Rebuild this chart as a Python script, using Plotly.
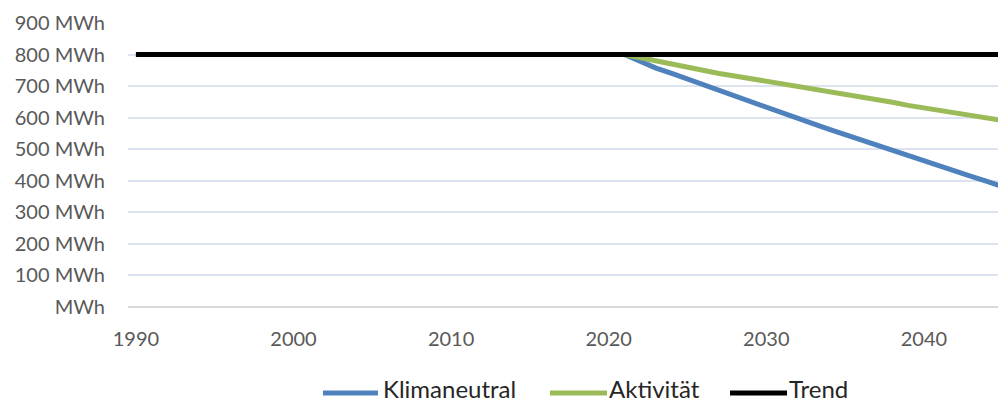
import plotly.graph_objects as go

# Energy demand scenarios (MWh per year)
years_trend = list(range(1990, 2046))
trend = [800] * len(years_trend)

years_scen = list(range(2021, 2046))
klimaneutral = [800, 778, 757, 740, 722, 703, 684, 667, 650, 632,
                614, 597, 580, 563, 546, 529, 512, 496, 480, 465,
                447, 431, 414, 398, 381]
aktivitaet = [800, 790, 777, 767, 757, 748, 740, 732, 724, 716,
              708, 699, 690, 681, 673, 665, 657, 649, 639, 631,
              623, 615, 607, 599, 591]

series_names = ["Klimaneutral", "Aktivität", "Trend"]
series_colors = ["#4F81BD", "#9BBB59", "#000000"]

y_ticks = [0, 100, 200, 300, 400, 500, 600, 700, 800, 900]
y_labels = ["MWh"] + [f"{v} MWh" for v in y_ticks[1:]]
x_ticks = [1990, 2000, 2010, 2020, 2030, 2040]

font_family = "Lato"
grey = "#595959"

W, H = 998, 405
M_L, M_R, M_T, M_B = 128, 0, 23, 98
plot_w = W - M_L - M_R
plot_h = H - M_T - M_B


def px_to_paper_x(px):
    return (px - M_L) / plot_w


def px_to_paper_y(py):
    return (H - M_B - py) / plot_h


fig = go.Figure()
for name, xs, ys, col in zip(series_names,
                             [years_scen, years_scen, years_trend],
                             [klimaneutral, aktivitaet, trend],
                             series_colors):
    fig.add_trace(go.Scatter(x=xs, y=ys, mode="lines", name=name,
                             line=dict(color=col, width=5), showlegend=False))

# Legend row below the plot: swatch line followed by the series name
legend_row_y = 393
legend_text_bottom = 404
legend_swatches = [(323, 378), (550, 607), (730, 787)]
legend_text_x = [382, 608, 788]
for name, col, (x0, x1), tx in zip(series_names, series_colors, legend_swatches, legend_text_x):
    fig.add_shape(type="line", xref="paper", yref="paper",
                  x0=px_to_paper_x(x0), x1=px_to_paper_x(x1),
                  y0=px_to_paper_y(legend_row_y), y1=px_to_paper_y(legend_row_y),
                  line=dict(color=col, width=5))
    fig.add_annotation(text=name, xref="paper", yref="paper",
                       x=px_to_paper_x(tx), y=px_to_paper_y(legend_text_bottom),
                       xanchor="left", yanchor="bottom", showarrow=False,
                       borderpad=0,
                       font=dict(family=font_family, size=24, color="#262626"))

fig.update_layout(
    width=W, height=H,
    margin=dict(l=M_L, r=M_R, t=M_T, b=M_B),
    paper_bgcolor="white", plot_bgcolor="white",
    font=dict(family=font_family, size=20, color=grey),
    showlegend=False,
)
fig.update_xaxes(range=[1989.5, 2044.7], tickvals=x_ticks, showgrid=False,
                 showline=False, zeroline=False, ticks="", ticklabelstandoff=18,
                 tickfont=dict(size=20, color=grey))
fig.update_yaxes(range=[0, 900], tickvals=y_ticks, ticktext=y_labels,
                 showgrid=True, gridcolor="#DCE4F0", gridwidth=1.5,
                 zeroline=True, zerolinecolor="#D9D9D9", zerolinewidth=2,
                 showline=False, ticks="", ticklabelstandoff=22,
                 tickfont=dict(size=20, color=grey))

fig.write_html("out.html")
